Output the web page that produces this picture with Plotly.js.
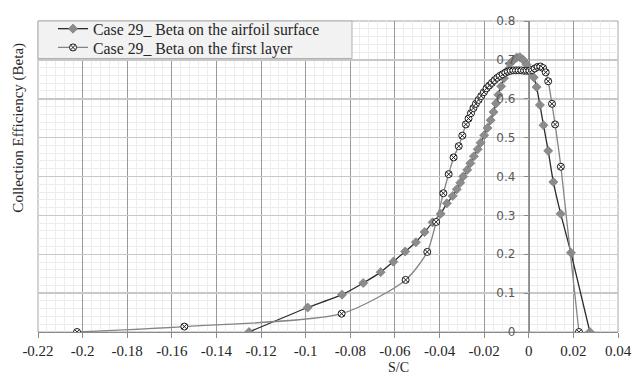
<!DOCTYPE html>
<html>
<head>
<meta charset="utf-8">
<script src="https://cdn.plot.ly/plotly-3.0.1.min.js"></script>
<style>html,body{margin:0;padding:0;background:#fff;}#chart{width:641px;height:376px;}</style>
</head>
<body>
<div id="chart"></div>
<script>
// Series 1: Beta on the airfoil surface
const surfaceX = [-0.1254, -0.0991, -0.0837, -0.0742, -0.0664, -0.0607, -0.0554, -0.0506, -0.0467, -0.0431, -0.0395, -0.0367, -0.0341, -0.0323, -0.0307, -0.0294, -0.0276, -0.0262, -0.0246, -0.0229, -0.0216, -0.0200, -0.0185, -0.0171, -0.0158, -0.0147, -0.0136, -0.0124, -0.0111, -0.0098, -0.0085, -0.0069, -0.0054, -0.0040, -0.0025, -0.0010, 0.0008, 0.0022, 0.0035, 0.0050, 0.0066, 0.0087, 0.0110, 0.0143, 0.0189, 0.0274];
const surfaceY = [0, 0.063, 0.096, 0.126, 0.154, 0.181, 0.207, 0.231, 0.257, 0.282, 0.304, 0.331, 0.350, 0.367, 0.384, 0.400, 0.417, 0.434, 0.452, 0.470, 0.487, 0.506, 0.525, 0.545, 0.566, 0.588, 0.610, 0.632, 0.653, 0.672, 0.690, 0.699, 0.706, 0.707, 0.700, 0.688, 0.672, 0.655, 0.630, 0.584, 0.532, 0.466, 0.386, 0.304, 0.204, 0];

// Series 2: Beta on the first layer
const layerX = [-0.2025, -0.1544, -0.0839, -0.0552, -0.0455, -0.0415, -0.0383, -0.0359, -0.0337, -0.0314, -0.0298, -0.0282, -0.0270, -0.0259, -0.0248, -0.0237, -0.0225, -0.0213, -0.0201, -0.0189, -0.0177, -0.0165, -0.0153, -0.0141, -0.0129, -0.0117, -0.0105, -0.0093, -0.0081, -0.0069, -0.0057, -0.0045, -0.0033, -0.0021, -0.0009, 0.0003, 0.0015, 0.0027, 0.0040, 0.0052, 0.0064, 0.0076, 0.0087, 0.0104, 0.0118, 0.0144, 0.0225];
const layerY = [0, 0.014, 0.047, 0.134, 0.206, 0.283, 0.357, 0.406, 0.449, 0.478, 0.505, 0.534, 0.549, 0.563, 0.576, 0.587, 0.597, 0.607, 0.617, 0.627, 0.634, 0.641, 0.648, 0.654, 0.659, 0.663, 0.667, 0.670, 0.672, 0.673, 0.673, 0.673, 0.673, 0.672, 0.672, 0.672, 0.674, 0.678, 0.682, 0.683, 0.679, 0.668, 0.645, 0.587, 0.534, 0.425, 0];

const seriesNames = ["Case 29_ Beta on the airfoil surface", "Case 29_ Beta on the first layer"];
const xTickVals = [-0.22, -0.2, -0.18, -0.16, -0.14, -0.12, -0.1, -0.08, -0.06, -0.04, -0.02, 0, 0.02, 0.04];
const xTickText = ["-0.22", "-0.2", "-0.18", "-0.16", "-0.14", "-0.12", "-0.1", "-0.08", "-0.06", "-0.04", "-0.02", "0", "0.02", "0.04"];
const xTitle = "S/C";
const yTitle = "Collection Efficiency (Beta)";

const serif = "Liberation Serif, Times New Roman, serif";

const traces = [
  {
    x: surfaceX, y: surfaceY, name: seriesNames[0], type: "scatter", mode: "lines+markers", legend: "legend",
    line: {color: "#2b2b2b", width: 1.3, shape: "spline", smoothing: 0.5},
    marker: {symbol: "diamond", size: 7, color: "#8c8c8c", line: {color: "#707070", width: 0.6}}
  },
  {
    x: layerX, y: layerY, name: seriesNames[1], type: "scatter", mode: "lines+markers", legend: "legend2",
    line: {color: "#858585", width: 1.3, shape: "spline", smoothing: 0.7},
    marker: {symbol: "circle-x", size: 7, color: "#ffffff", line: {color: "#1a1a1a", width: 1}}
  }
];

const L = 38, T = 17, W = 580, H = 315;
function px2x(p) { return (p - L) / W; }
function py2y(p) { return (T + H - p) / H; }

const legendFont = {family: serif, size: 15.8, color: "#262626"};
const layout = {
  width: 641, height: 376,
  margin: {l: L, r: 641 - L - W, t: T, b: 376 - T - H, pad: 0},
  paper_bgcolor: "#ffffff", plot_bgcolor: "#ffffff",
  showlegend: true,
  legend: {
    x: px2x(53), y: py2y(25), xanchor: "left", yanchor: "middle",
    bgcolor: "rgba(0,0,0,0)", borderwidth: 0, itemwidth: 30, font: legendFont
  },
  legend2: {
    x: px2x(53), y: py2y(44), xanchor: "left", yanchor: "middle",
    bgcolor: "rgba(0,0,0,0)", borderwidth: 0, itemwidth: 30, font: legendFont
  },
  xaxis: {
    range: [-0.22, 0.04], tickmode: "array", tickvals: xTickVals, ticktext: xTickText,
    showgrid: true, gridcolor: "#9a9a9a", gridwidth: 1,
    minor: {dtick: 0.004, showgrid: true, gridcolor: "#ececec", gridwidth: 1},
    zeroline: false, showline: true, linecolor: "#8a8a8a", linewidth: 1,
    ticks: "outside", ticklen: 5, tickcolor: "#8a8a8a",
    tickfont: {family: serif, size: 15, color: "#262626"}, fixedrange: true
  },
  yaxis: {
    range: [0, 0.8], dtick: 0.1, tick0: 0,
    anchor: "free", position: 0.22 / 0.26, side: "left",
    showgrid: true, gridcolor: "#c8c8c8", gridwidth: 1.5,
    minor: {dtick: 0.02, showgrid: true, gridcolor: "#ececec", gridwidth: 1},
    zeroline: false, showline: true, linecolor: "#8a8a8a", linewidth: 1,
    ticks: "outside", ticklen: 5, tickcolor: "#8a8a8a", ticklabelstandoff: 6,
    tickfont: {family: "DejaVu Sans, Verdana, sans-serif", size: 12, color: "#595959"}, fixedrange: true
  },
  shapes: [
    {type: "rect", xref: "paper", yref: "paper", x0: 0, x1: 1, y0: 0, y1: 1,
     line: {color: "#a6a6a6", width: 1}, fillcolor: "rgba(0,0,0,0)", layer: "below"},
    {type: "rect", xref: "paper", yref: "paper", x0: px2x(38), x1: px2x(352), y0: py2y(55), y1: py2y(17),
     line: {color: "#b0b0b0", width: 1}, fillcolor: "#f2f2f2", layer: "above", opacity: 1}
  ],
  annotations: [
    {text: xTitle, xref: "paper", yref: "paper", x: px2x(398), y: py2y(368), showarrow: false,
     xanchor: "center", yanchor: "middle", font: {family: serif, size: 14, color: "#262626"}},
    {text: yTitle, xref: "paper", yref: "paper", x: px2x(19), y: py2y(125), showarrow: false, textangle: -90,
     xanchor: "center", yanchor: "middle", font: {family: serif, size: 15, color: "#262626"}}
  ]
};

Plotly.newPlot("chart", traces, layout, {staticPlot: true, displayModeBar: false});
</script>
</body>
</html>
